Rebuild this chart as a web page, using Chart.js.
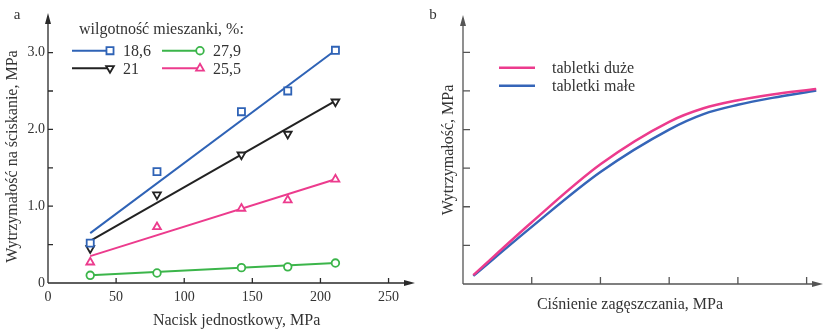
<!DOCTYPE html>
<html>
<head>
<meta charset="utf-8">
<script src="https://cdn.jsdelivr.net/npm/chart.js@4"></script>
<style>
  html, body { margin: 0; padding: 0; background: #fff; }
  #wrap { position: relative; width: 824px; height: 330px; overflow: hidden; }
  #paneA { position: absolute; left: 0; top: 0; width: 432px; height: 330px; }
  #paneB { position: absolute; left: 420px; top: 0; width: 404px; height: 330px; }
</style>
</head>
<body>
<div id="wrap">
  <div id="paneA"><canvas id="chartA"></canvas></div>
  <div id="paneB"><canvas id="chartB"></canvas></div>
</div>
<script>
// panel a: measured points
const pressure = [31, 80, 142, 176, 211];
const moisture = ['18,6', '21', '25,5', '27,9'];
const strength186 = [0.52, 1.45, 2.23, 2.50, 3.03];
const strength21 = [0.45, 1.15, 1.67, 1.94, 2.36];
const strength255 = [0.27, 0.73, 0.97, 1.08, 1.35];
const strength279 = [0.10, 0.13, 0.20, 0.21, 0.26];
// panel a: fitted lines (start / end)
const fitRange = [31, 211];
const fit186 = [0.65, 3.03];
const fit21 = [0.55, 2.37];
const fit255 = [0.35, 1.35];
const fit279 = [0.10, 0.26];
const xTicksA = [0, 50, 100, 150, 200, 250];
const yTicksA = [0, 0.5, 1, 1.5, 2, 2.5, 3];
const yLabelsA = ['0', '', '1.0', '', '2.0', '', '3.0'];

// panel b: curves
const pressureB = [0.15, 1, 2, 3, 3.5, 4, 4.5, 5.14];
const bigTablets = [0.23, 1.60, 3.10, 4.20, 4.55, 4.76, 4.91, 5.05];
const smallTablets = [0.21, 1.48, 2.90, 4.00, 4.40, 4.64, 4.82, 5.01];
const tabletLabels = ['tabletki duże', 'tabletki małe'];
const xTicksB = [1, 2, 3, 4, 5];
const yTicksB = [1, 2, 3, 4, 5, 6];

const SERIF = '"Liberation Serif", "Times New Roman", serif';
Chart.defaults.font.family = SERIF;
Chart.defaults.color = '#333';

const BLUE = '#2f63b6';
const BLACK = '#222';
const PINK = '#ec3b8d';
const GREEN = '#3bb54a';

const pts = (xs, ys) => xs.map((x, i) => ({ x, y: ys[i] }));

function markerSet(label, ys, color, style, rotation, radius) {
  return {
    label, data: pts(pressure, ys), showLine: false,
    borderColor: color, backgroundColor: '#fff',
    pointStyle: style, rotation, pointRadius: radius, pointBorderWidth: 1.8,
  };
}
function fitSet(ys, color) {
  return {
    data: pts(fitRange, ys), showLine: true, pointRadius: 0,
    borderColor: color, borderWidth: 2,
  };
}

// axes with arrows and inward ticks
const axesPlugin = {
  id: 'axes',
  beforeDatasetsDraw(chart, args, opts) {
    const { ctx, scales: { x, y } } = chart;
    const x0 = x.getPixelForValue(0);
    const y0 = y.getPixelForValue(0);
    ctx.save();
    ctx.strokeStyle = opts.color;
    ctx.fillStyle = opts.color;
    ctx.lineWidth = 1.3;
    ctx.beginPath();
    ctx.moveTo(x0, y0); ctx.lineTo(opts.xTip - 6, y0);
    ctx.moveTo(x0, y0); ctx.lineTo(x0, opts.yTip + 6);
    opts.xTicks.forEach((v) => {
      const px = x.getPixelForValue(v);
      ctx.moveTo(px, y0); ctx.lineTo(px, y0 - opts.tickLen);
    });
    opts.yTicks.forEach((v) => {
      const py = y.getPixelForValue(v);
      ctx.moveTo(x0, py); ctx.lineTo(x0 + opts.tickLen, py);
    });
    ctx.stroke();
    ctx.beginPath();
    ctx.moveTo(opts.xTip, y0); ctx.lineTo(opts.xTip - 11, y0 - 3); ctx.lineTo(opts.xTip - 11, y0 + 3); ctx.closePath();
    ctx.moveTo(x0, opts.yTip); ctx.lineTo(x0 - 3, opts.yTip + 11); ctx.lineTo(x0 + 3, opts.yTip + 11); ctx.closePath();
    ctx.fill();
    ctx.fillStyle = '#333';
    ctx.font = '15px ' + SERIF;
    ctx.textAlign = 'center';
    ctx.textBaseline = 'middle';
    ctx.fillText(opts.panel, opts.panelX, 15);
    ctx.restore();
  },
};

const legendA = {
  id: 'legendA',
  afterDraw(chart) {
    const { ctx } = chart;
    const cols = [72, 162];
    const rows = [50.7, 68.3];
    const slots = [[0, 0], [1, 0], [1, 1], [0, 1]]; // 18,6 / 21 / 25,5 / 27,9
    ctx.save();
    ctx.font = '16px ' + SERIF;
    ctx.fillStyle = '#333';
    ctx.textBaseline = 'middle';
    ctx.fillText('wilgotność mieszanki, %:', 79, 30);
    slots.forEach(([r, c], i) => {
      const ds = chart.data.datasets[i];
      const lx = cols[c];
      const ly = rows[r];
      ctx.strokeStyle = ds.borderColor;
      ctx.lineWidth = 2;
      ctx.beginPath();
      ctx.moveTo(lx, ly); ctx.lineTo(lx + 38, ly);
      ctx.stroke();
      ctx.fillStyle = '#fff';
      ctx.lineWidth = 1.8;
      Chart.helpers.drawPoint(ctx, {
        pointStyle: ds.pointStyle, rotation: ds.rotation, radius: ds.pointRadius, borderWidth: 1.8,
      }, lx + 38, ly);
      ctx.fillStyle = '#333';
      ctx.fillText(ds.label, lx + 51, ly + 1);
    });
    ctx.restore();
  },
};

const legendB = {
  id: 'legendB',
  afterDraw(chart) {
    const { ctx } = chart;
    ctx.save();
    ctx.font = '16px ' + SERIF;
    ctx.textBaseline = 'middle';
    chart.data.datasets.forEach((ds, i) => {
      const ly = 67.7 + i * 18;
      ctx.strokeStyle = ds.borderColor;
      ctx.lineWidth = 2.5;
      ctx.beginPath();
      ctx.moveTo(79, ly); ctx.lineTo(115, ly);
      ctx.stroke();
      ctx.fillStyle = '#333';
      ctx.fillText(ds.label, 132, ly + 1);
    });
    ctx.restore();
  },
};

const chartA = new Chart(document.getElementById('chartA'), {
  type: 'scatter',
  data: {
    datasets: [
      markerSet(moisture[0], strength186, BLUE, 'rect', 0, 5),
      markerSet(moisture[1], strength21, BLACK, 'triangle', 180, 4.5),
      markerSet(moisture[2], strength255, PINK, 'triangle', 0, 4.5),
      markerSet(moisture[3], strength279, GREEN, 'circle', 0, 3.8),
      fitSet(fit186, BLUE),
      fitSet(fit21, BLACK),
      fitSet(fit255, PINK),
      fitSet(fit279, GREEN),
    ],
  },
  options: {
    responsive: true,
    maintainAspectRatio: false,
    animation: false,
    devicePixelRatio: 1,
    layout: { padding: { top: 30, right: 3, left: 0, bottom: 0 } },
    plugins: {
      legend: { display: false },
      tooltip: { enabled: false },
      axes: {
        color: '#2a2a2a', tickLen: 5, xTip: 415, yTip: 13,
        xTicks: xTicksA.slice(1), yTicks: yTicksA.slice(1), panel: 'a', panelX: 17,
      },
    },
    scales: {
      x: {
        type: 'linear', min: 0, max: 276.9,
        grid: { display: false, drawTicks: false }, border: { display: false },
        afterBuildTicks: (s) => { s.ticks = xTicksA.map((v) => ({ value: v })); },
        afterFit: (s) => { s.height = 47; },
        ticks: { padding: 6, font: { size: 14 }, maxRotation: 0 },
        title: { display: true, text: 'Nacisk jednostkowy, MPa', font: { size: 16 }, padding: { top: 0, bottom: 0 } },
      },
      y: {
        type: 'linear', min: 0, max: 3.294,
        grid: { display: false, drawTicks: false }, border: { display: false },
        afterBuildTicks: (s) => { s.ticks = yTicksA.map((v) => ({ value: v })); },
        afterFit: (s) => { s.width = 48; },
        ticks: { padding: 3, font: { size: 14 }, callback: (v, i) => yLabelsA[i] },
        title: { display: true, text: 'Wytrzymałość na ściskanie, MPa', font: { size: 16 }, padding: { top: 3.4, bottom: 0 } },
      },
    },
  },
  plugins: [axesPlugin, legendA],
});

const chartB = new Chart(document.getElementById('chartB'), {
  type: 'line',
  data: {
    datasets: [
      { label: tabletLabels[0], data: pts(pressureB, bigTablets), borderColor: PINK, borderWidth: 2.5, pointRadius: 0, cubicInterpolationMode: 'monotone', clip: false },
      { label: tabletLabels[1], data: pts(pressureB, smallTablets), borderColor: '#3565b8', borderWidth: 2.5, pointRadius: 0, cubicInterpolationMode: 'monotone', clip: false },
    ],
  },
  options: {
    responsive: true,
    maintainAspectRatio: false,
    animation: false,
    devicePixelRatio: 1,
    layout: { padding: { top: 16, right: 27, left: 0, bottom: 0 } },
    plugins: {
      legend: { display: false },
      tooltip: { enabled: false },
      axes: {
        color: '#555', tickLen: 7, xTip: 403, yTip: 15,
        xTicks: xTicksB, yTicks: yTicksB, panel: 'b', panelX: 13,
      },
    },
    scales: {
      x: {
        type: 'linear', min: 0, max: 4.86,
        grid: { display: false, drawTicks: false }, border: { display: false },
        ticks: { display: false },
        afterFit: (s) => { s.height = 46; },
        title: { display: true, text: 'Ciśnienie zagęszczania, MPa', font: { size: 16 }, padding: { top: 0, bottom: 15.5 } },
      },
      y: {
        type: 'linear', min: 0, max: 6.94,
        grid: { display: false, drawTicks: false }, border: { display: false },
        ticks: { display: false },
        afterFit: (s) => { s.width = 43; },
        title: { display: true, text: 'Wytrzymałość, MPa', font: { size: 16 }, padding: { top: 19.4, bottom: 0 } },
      },
    },
  },
  plugins: [axesPlugin, legendB],
});
</script>
</body>
</html>
